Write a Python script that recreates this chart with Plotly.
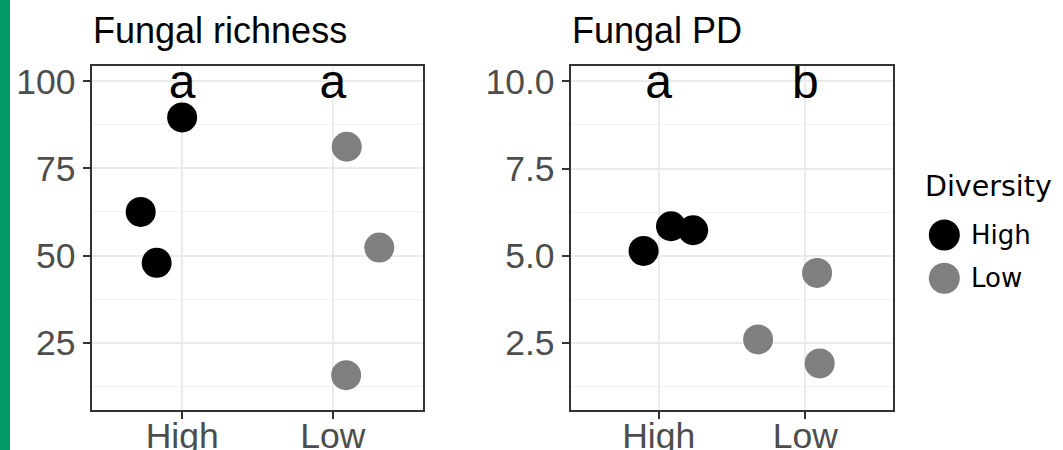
import plotly.graph_objects as go

# ---- data -------------------------------------------------------------
groups = ["High", "Low"]
group_colors = ["#000000", "#7F7F7F"]

# Fungal richness (x = jittered group position, High = 1, Low = 2)
rich_high_x = [1.000, 0.725, 0.831]
rich_high_y = [89.6, 62.5, 47.9]
rich_low_x = [2.092, 2.308, 2.088]
rich_low_y = [81.2, 52.3, 15.7]

# Fungal PD
pd_high_x = [0.897, 1.084, 1.235]
pd_high_y = [5.135, 5.843, 5.728]
pd_low_x = [2.080, 1.678, 2.098]
pd_low_y = [4.504, 2.594, 1.906]

# significance letters and where they sit
rich_letters = ["a", "a"]
rich_letter_y = [98.7, 98.7]
pd_letters = ["a", "b"]
pd_letter_y = [9.87, 9.87]

rich_ticks = [25, 50, 75, 100]
rich_ticktext = ["25", "50", "75", "100"]
pd_ticks = [2.5, 5.0, 7.5, 10.0]
pd_ticktext = ["2.5", "5.0", "7.5", "10.0"]

panel_titles = ["Fungal richness", "Fungal PD"]
legend_title = "Diversity"

# ---- styling ----------------------------------------------------------
W, H = 1063, 450
SANS = "Liberation Sans, Arial, Helvetica, sans-serif"
LEGEND_FONT = "DejaVu Sans, Verdana, sans-serif"
MARKER_SIZE = 30


def px_x(p):
    return p / W


def px_y(p):
    return 1 - p / H


fig = go.Figure()

panels = [
    dict(xs=[rich_high_x, rich_low_x], ys=[rich_high_y, rich_low_y],
         letters=rich_letters, letter_y=rich_letter_y, ax="x", ay="y"),
    dict(xs=[pd_high_x, pd_low_x], ys=[pd_high_y, pd_low_y],
         letters=pd_letters, letter_y=pd_letter_y, ax="x2", ay="y2"),
]

for pnl in panels:
    for g, col, xs, ys in zip(groups, group_colors, pnl["xs"], pnl["ys"]):
        fig.add_trace(go.Scatter(
            x=xs, y=ys, mode="markers", name=g, showlegend=False,
            marker=dict(size=MARKER_SIZE, color=col, line=dict(width=0)),
            xaxis=pnl["ax"], yaxis=pnl["ay"],
        ))
    fig.add_trace(go.Scatter(
        x=[1, 2], y=pnl["letter_y"], mode="text", text=pnl["letters"],
        textposition="middle center", showlegend=False, cliponaxis=True,
        textfont=dict(family=SANS, size=48, color="#000000"),
        xaxis=pnl["ax"], yaxis=pnl["ay"],
    ))

common_axis = dict(
    showline=True, mirror=True, linecolor="#333333", linewidth=2,
    ticks="outside", ticklen=7, tickwidth=2, tickcolor="#333333",
    tickfont=dict(family=SANS, size=35.5, color="#4D4D4D"),
    showgrid=True, gridcolor="#EBEBEB", gridwidth=2,
    zeroline=False, automargin=False,
)

x_common = dict(common_axis, tickvals=[1, 2], ticktext=groups, range=[0.4, 2.6],
                ticklabelstandoff=-14)

y_dom = [px_y(410), px_y(65.7)]

fig.update_layout(
    width=W, height=H,
    margin=dict(l=0, r=0, t=0, b=0),
    paper_bgcolor="white", plot_bgcolor="white",
    showlegend=False,
    xaxis=dict(x_common, domain=[px_x(91.7), px_x(423.3)], anchor="y"),
    yaxis=dict(common_axis, domain=y_dom, anchor="x", range=[5.7, 104.45],
               tickvals=rich_ticks, ticktext=rich_ticktext,
               minor=dict(dtick=12.5, tick0=0, showgrid=True,
                          gridcolor="#F2F2F2", gridwidth=1, ticks="")),
    xaxis2=dict(x_common, domain=[px_x(570.7), px_x(893.3)], anchor="y2"),
    yaxis2=dict(common_axis, domain=y_dom, anchor="x2", range=[0.57, 10.45],
                tickvals=pd_ticks, ticktext=pd_ticktext,
                minor=dict(dtick=1.25, tick0=0, showgrid=True,
                           gridcolor="#F2F2F2", gridwidth=1, ticks="")),
)

# panel titles
for title, left in zip(panel_titles, [90.5, 570.0]):
    fig.add_annotation(
        text=title, xref="paper", yref="paper", x=px_x(left), y=px_y(30.3),
        xanchor="left", yanchor="middle", showarrow=False,
        font=dict(family=SANS, size=36, color="#000000"),
    )

# legend: title, keys and labels
fig.add_annotation(
    text=legend_title, xref="paper", yref="paper", x=px_x(922.5), y=px_y(186),
    xanchor="left", yanchor="middle", showarrow=False,
    font=dict(family=LEGEND_FONT, size=28.5, color="#000000"),
)
key_rows = [235.0, 278.3]
for g, col, row in zip(groups, group_colors, key_rows):
    r = MARKER_SIZE / 2 + 0.5
    fig.add_shape(
        type="circle", xref="paper", yref="paper",
        xsizemode="pixel", ysizemode="pixel",
        xanchor=px_x(944.3), yanchor=px_y(row),
        x0=-r, x1=r, y0=-r, y1=r,
        fillcolor=col, line=dict(width=0),
    )
    fig.add_annotation(
        text=g, xref="paper", yref="paper", x=px_x(969.0), y=px_y(row),
        xanchor="left", yanchor="middle", showarrow=False,
        font=dict(family=LEGEND_FONT, size=26, color="#000000"),
    )

# green accent bar down the left edge
fig.add_shape(
    type="rect", xref="paper", yref="paper", x0=0, x1=px_x(10), y0=0, y1=1,
    fillcolor="#069A6B", line=dict(width=0), layer="above",
)

fig.write_html("out.html")
